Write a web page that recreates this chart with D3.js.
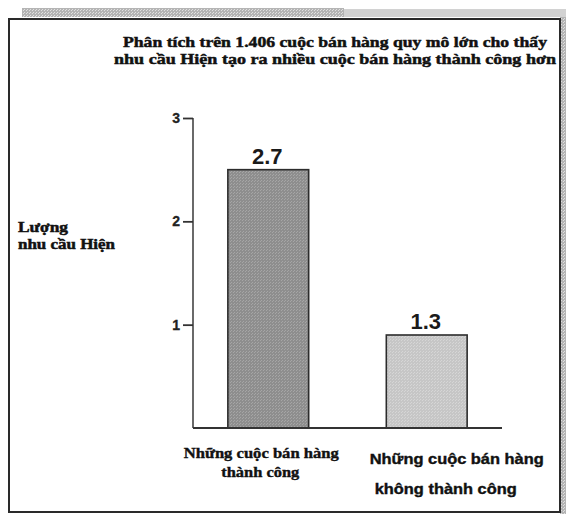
<!DOCTYPE html>
<html>
<head>
<meta charset="utf-8">
<script src="https://cdn.jsdelivr.net/npm/d3@7/dist/d3.min.js"></script>
<style>
  html, body { margin: 0; padding: 0; background: #fff; }
  svg { display: block; }
</style>
</head>
<body>
<div id="chart"></div>
<script>
// data
const categories = ['thanhCong', 'khongThanhCong']
const categoryLabels = [
  ['Những cuộc bán hàng', 'thành công'],
  ['Những cuộc bán hàng', 'không thành công'],
]
// bar heights as drawn in the picture, and the numbers printed above them
const barHeights = [2.5, 0.9]
const valueLabels = ['2.7', '1.3']
const yTicks = [1, 2, 3]
const titleLines = [
  'Phân tích trên 1.406 cuộc bán hàng quy mô lớn cho thấy',
  'nhu cầu Hiện tạo ra nhiều cuộc bán hàng thành công hơn',
]
const yLabelLines = ['Lượng', 'nhu cầu Hiện']

const width = 566
const height = 514
const serif = '"Liberation Serif", "DejaVu Serif", serif'
const sans = '"Liberation Sans", Arial, sans-serif'

const svg = d3.select('#chart')
  .append('svg')
  .attr('width', width)
  .attr('height', height)

// stipple pattern for the scanned grey fills
const defs = svg.append('defs')
function stipple(id, base, dot) {
  const p = defs.append('pattern')
    .attr('id', id)
    .attr('width', 3)
    .attr('height', 3)
    .attr('patternUnits', 'userSpaceOnUse')
  p.append('rect').attr('width', 3).attr('height', 3).attr('fill', base)
  p.append('rect').attr('x', 0).attr('y', 0).attr('width', 1).attr('height', 1).attr('fill', dot)
  p.append('rect').attr('x', 2).attr('y', 1).attr('width', 1).attr('height', 1).attr('fill', dot)
}
stipple('darkFill', '#8e8e8e', '#a6a6a6')
stipple('lightFill', '#c6c6c6', '#d6d6d6')
stipple('bandFill', '#b4b4b4', '#e0e0e0')

// frame with its shadow bands
svg.append('rect')
  .attr('x', 22).attr('y', 8).attr('width', 322).attr('height', 9)
  .attr('fill', 'url(#bandFill)')
svg.append('rect')
  .attr('x', 344).attr('y', 9).attr('width', 222).attr('height', 8)
  .attr('fill', '#d2d2d2')
svg.append('rect')
  .attr('x', 560).attr('y', 17).attr('width', 6).attr('height', 497)
  .attr('fill', 'url(#bandFill)')
svg.append('rect')
  .attr('x', 9).attr('y', 19).attr('width', 551).attr('height', 493)
  .attr('fill', '#fff')
  .attr('stroke', '#2a2a2a')
  .attr('stroke-width', 2)

// heavier print look for the scanned serif text
function heavy(sel, w) {
  sel.attr('stroke', '#111').attr('stroke-width', w).attr('paint-order', 'stroke')
}

// title
svg.append('g')
  .selectAll('text')
  .data(titleLines)
  .join('text')
  .attr('x', 335)
  .attr('y', (d, i) => 47 + i * 17)
  .attr('text-anchor', 'middle')
  .attr('textLength', (d, i) => (i === 0 ? 424 : 442))
  .attr('lengthAdjust', 'spacingAndGlyphs')
  .attr('font-family', serif)
  .attr('font-weight', 'bold')
  .attr('font-size', 15.5)
  .attr('fill', '#111')
  .text(d => d)
  .call(heavy, 0.5)

// scales
const yScale = d3.scaleLinear().domain([0, 3]).range([428, 118])
const xScale = d3.scaleBand()
  .domain(categories)
  .range([193, 502])
  .paddingInner(0.49)
  .paddingOuter(0.22)

// y axis
const yAxis = d3.axisLeft(yScale)
  .tickValues(yTicks)
  .tickFormat(d3.format('d'))
  .tickSize(10)
  .tickPadding(3)

const yAxisG = svg.append('g')
  .attr('transform', `translate(${xScale.range()[0]}, 0)`)
  .call(yAxis)
yAxisG.select('.domain')
  .attr('d', `M0,${yScale(3)}V${yScale(0)}`)
  .attr('stroke', '#444')
  .attr('stroke-width', 1.6)
yAxisG.selectAll('.tick line')
  .attr('stroke', '#333')
  .attr('stroke-width', 1.8)
yAxisG.selectAll('.tick text')
  .attr('font-family', sans)
  .attr('font-weight', 'bold')
  .attr('font-size', 14)
  .attr('fill', '#222')
  .call(heavy, 0.3)

// y label
svg.append('g')
  .selectAll('text')
  .data(yLabelLines)
  .join('text')
  .attr('x', 18)
  .attr('y', (d, i) => 232 + i * 17)
  .attr('textLength', (d, i) => (i === 0 ? 50 : 97))
  .attr('lengthAdjust', 'spacingAndGlyphs')
  .attr('font-family', serif)
  .attr('font-weight', 'bold')
  .attr('font-size', 14.5)
  .attr('fill', '#111')
  .text(d => d)
  .call(heavy, 0.5)

// bars
svg.append('g')
  .selectAll('rect')
  .data(categories)
  .join('rect')
  .attr('x', d => xScale(d))
  .attr('y', (d, i) => yScale(barHeights[i]))
  .attr('width', xScale.bandwidth())
  .attr('height', (d, i) => yScale(0) - yScale(barHeights[i]))
  .attr('fill', (d, i) => (i === 0 ? 'url(#darkFill)' : 'url(#lightFill)'))
  .attr('stroke', '#2c2c2c')
  .attr('stroke-width', 1.6)

// baseline
svg.append('line')
  .attr('x1', xScale.range()[0])
  .attr('x2', xScale.range()[1])
  .attr('y1', yScale(0))
  .attr('y2', yScale(0))
  .attr('stroke', '#333')
  .attr('stroke-width', 1.8)

// value labels
svg.append('g')
  .selectAll('text')
  .data(categories)
  .join('text')
  .attr('x', d => xScale(d) + xScale.bandwidth() / 2 - 1)
  .attr('y', (d, i) => yScale(barHeights[i]) - 6)
  .attr('text-anchor', 'middle')
  .attr('font-family', sans)
  .attr('font-weight', 'bold')
  .attr('font-size', 22)
  .attr('fill', '#1a1a1a')
  .text((d, i) => valueLabels[i])

// category labels
const catLayout = [
  { font: serif, lines: [{ dx: -7, y: 458, w: 155 }, { dx: -8, y: 477, w: 78 }] },
  { font: sans, lines: [{ dx: 30, y: 464, w: 174 }, { dx: 19, y: 494, w: 142 }] },
]
categories.forEach((c, i) => {
  const cx = xScale(c) + xScale.bandwidth() / 2
  svg.append('g')
    .selectAll('text')
    .data(categoryLabels[i])
    .join('text')
    .attr('x', (d, j) => cx + catLayout[i].lines[j].dx)
    .attr('y', (d, j) => catLayout[i].lines[j].y)
    .attr('text-anchor', 'middle')
    .attr('textLength', (d, j) => catLayout[i].lines[j].w)
    .attr('lengthAdjust', 'spacingAndGlyphs')
    .attr('font-family', catLayout[i].font)
    .attr('font-weight', 'bold')
    .attr('font-size', i === 0 ? 15.5 : 14.5)
    .attr('fill', '#111')
    .text(d => d)
    .call(heavy, 0.4)
})
</script>
</body>
</html>
